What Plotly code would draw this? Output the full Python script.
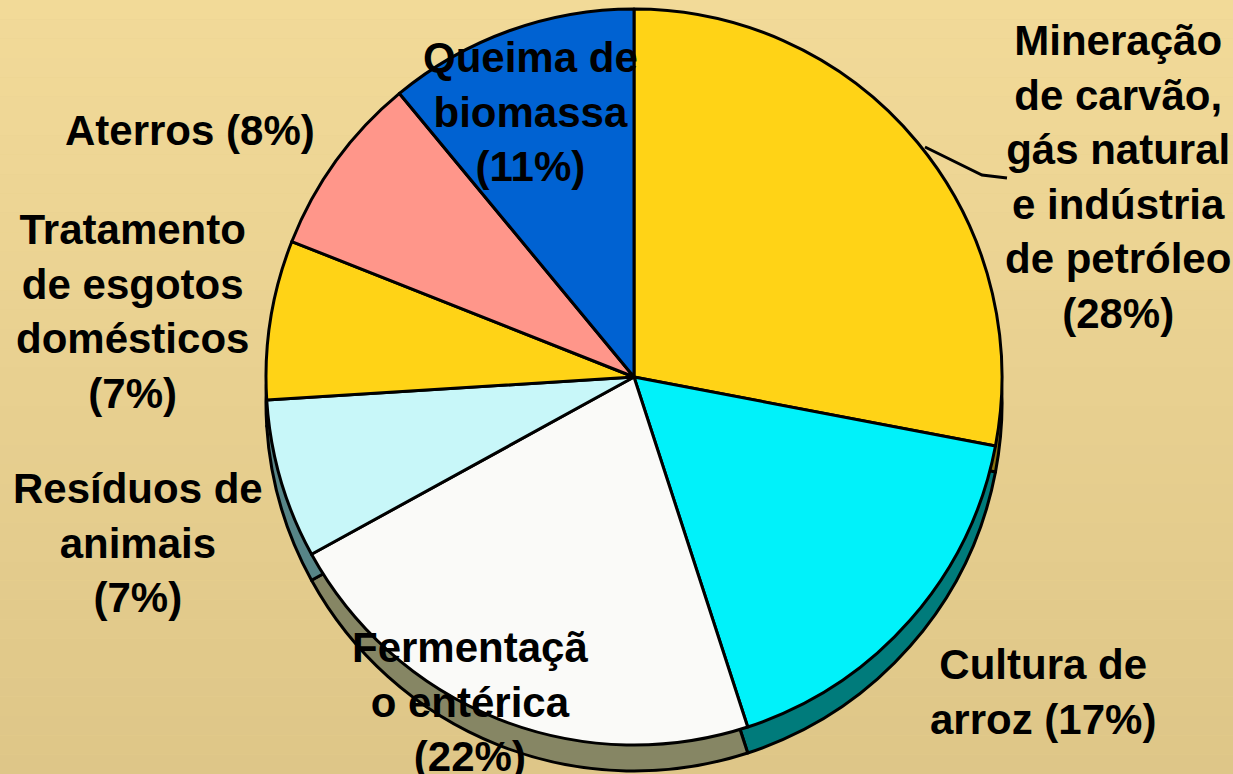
import plotly.graph_objects as go

# ---- data ----
labels = [
    "Mineração de carvão, gás natural e indústria de petróleo",
    "Cultura de arroz",
    "Fermentação entérica",
    "Resíduos de animais",
    "Tratamento de esgotos domésticos",
    "Aterros",
    "Queima de biomassa",
]
values = [28, 17, 22, 7, 7, 8, 11]
display_labels = [
    "Mineração<br>de carvão,<br>gás natural<br>e indústria<br>de petróleo",
    "Cultura de<br>arroz",
    "Fermentaçã<br>o entérica<br>",
    "Resíduos de<br>animais<br>",
    "Tratamento<br>de esgotos<br>domésticos<br>",
    "Aterros",
    "Queima de<br>biomassa<br>",
]
top_colors = ["#FFD316", "#00F2FA", "#FAFAF8", "#C8F7F9", "#FFD316", "#FF968A", "#0062D2"]
side_colors = ["#8A7410", "#007B7B", "#868664", "#578587", "#8A7410", "#8C5A50", "#003A80"]

W, H = 1233, 774
cx, cy, r = 634, 377, 368
depth = 26

def px(x):
    return x / W

def py(y):
    return 1 - y / H

fig = go.Figure()

# 3D side (shadow) pie
fig.add_trace(go.Pie(
    labels=labels, values=values, sort=False, direction="clockwise", rotation=0,
    marker=dict(colors=side_colors, line=dict(color="black", width=3)),
    textinfo="none", hoverinfo="skip", showlegend=False,
    domain=dict(x=[px(cx - r), px(cx + r)], y=[py(cy + depth + r), py(cy + depth - r)]),
))
# top face
fig.add_trace(go.Pie(
    labels=labels, values=values, sort=False, direction="clockwise", rotation=0,
    marker=dict(colors=top_colors, line=dict(color="black", width=3)),
    textinfo="none", showlegend=False,
    domain=dict(x=[px(cx - r), px(cx + r)], y=[py(cy + r), py(cy - r)]),
))

# background gradient bands
shapes = []
n = 40
c0 = (242, 218, 152)
c1 = (222, 198, 136)
for i in range(n):
    t = i / (n - 1)
    col = "rgb(%d,%d,%d)" % tuple(round(a + (b - a) * t) for a, b in zip(c0, c1))
    shapes.append(dict(type="rect", xref="paper", yref="paper", x0=0, x1=1,
                       y0=1 - (i + 1) / n, y1=1 - i / n, fillcolor=col,
                       line=dict(width=0), layer="below"))

# leader line for the first slice
shapes.append(dict(type="path", xref="paper", yref="paper",
                   path="M %f,%f L %f,%f L %f,%f" % (px(925), py(147), px(982), py(175), px(1007), py(178)),
                   line=dict(color="black", width=3), layer="above"))

# label positions (pixel centres)
label_pos = [(1118, 177), (1043, 692), (470, 702), (138, 543), (132, 311), (190, 130), (530, 112)]

annotations = []
for txt, v, (x, y) in zip(display_labels, values, label_pos):
    if txt == "Aterros":
        text = "%s (%d%%)" % (txt, v)
    elif txt.endswith("<br>"):
        text = "%s(%d%%)" % (txt, v)
    elif txt.startswith("Cultura"):
        text = "%s (%d%%)" % (txt, v)
    else:
        text = "%s<br>(%d%%)" % (txt, v)
    annotations.append(dict(
        text=text, x=px(x), y=py(y), xref="paper", yref="paper",
        xanchor="center", yanchor="middle", showarrow=False, align="center",
        font=dict(family="Liberation Sans, Arial, sans-serif", size=42, color="black", weight="bold"),
    ))

fig.update_layout(
    width=W, height=H,
    margin=dict(l=0, r=0, t=0, b=0),
    paper_bgcolor="#E8D08F",
    plot_bgcolor="#E8D08F",
    shapes=shapes,
    annotations=annotations,
    showlegend=False,
)

fig.write_html("out.html", config={"displayModeBar": False},
               post_script="document.body.style.margin='0';document.body.style.overflow='hidden';")
